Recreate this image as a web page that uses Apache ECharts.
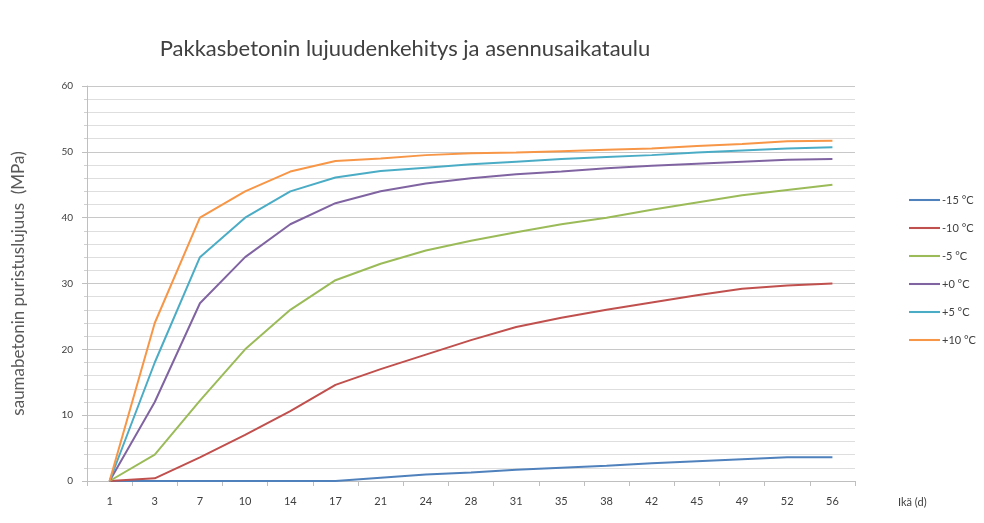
<!DOCTYPE html>
<html>
<head>
<meta charset="utf-8">
<script src="https://cdn.jsdelivr.net/npm/echarts@6/dist/echarts.min.js"></script>
<style>
  html, body { margin: 0; padding: 0; background: #fff; }
  #chart { width: 984px; height: 523px; }
</style>
</head>
<body>
<div id="chart"></div>
<script>
// Concrete age in days
const ages = ['1', '3', '7', '10', '14', '17', '21', '24', '28', '31', '35', '38', '42', '45', '49', '52', '56'];

// Compressive strength (MPa) per curing temperature
const minus15 = [0, 0, 0, 0, 0, 0, 0.5, 1, 1.3, 1.7, 2, 2.3, 2.7, 3, 3.3, 3.6, 3.6];
const minus10 = [0, 0.4, 3.6, 7, 10.6, 14.6, 17, 19.2, 21.4, 23.4, 24.8, 26, 27.1, 28.2, 29.2, 29.7, 30];
const minus5  = [0, 4, 12.2, 20, 26, 30.5, 33, 35, 36.5, 37.8, 39, 40, 41.2, 42.3, 43.4, 44.2, 45];
const plus0   = [0, 12, 27, 34, 39, 42.2, 44, 45.2, 46, 46.6, 47, 47.5, 47.9, 48.2, 48.5, 48.8, 48.9];
const plus5   = [0, 18, 34, 40, 44, 46.1, 47.1, 47.6, 48.1, 48.5, 48.9, 49.2, 49.5, 49.9, 50.2, 50.5, 50.7];
const plus10  = [0, 24, 40, 44, 47, 48.6, 49, 49.5, 49.8, 49.9, 50.1, 50.3, 50.5, 50.9, 51.2, 51.6, 51.7];

const seriesNames = ['-15 °C', '-10 °C', '-5 °C', '+0 °C', '+5 °C', '+10 °C'];
const seriesData = [minus15, minus10, minus5, plus0, plus5, plus10];
const colors = ['#4F81BD', '#C0504D', '#9BBB59', '#8064A2', '#4BACC6', '#F79646'];

const font = 'Lato, "Open Sans", sans-serif';

const chart = echarts.init(document.getElementById('chart'));
chart.setOption({
  animation: false,
  color: colors,
  title: {
    text: 'Pakkasbetonin lujuudenkehitys ja asennusaikataulu',
    left: 400,
    top: 33,
    textAlign: 'center',
    textStyle: { fontFamily: font, fontSize: 22, fontWeight: 'normal', color: '#404040' }
  },
  grid: { left: 87, right: 129, top: 86, bottom: 42, containLabel: false },
  legend: {
    orient: 'vertical',
    left: 904,
    top: 188,
    itemGap: 14,
    itemWidth: 31,
    itemHeight: 14,
    icon: 'path://M0,6 L30,6 L30,8 L0,8 Z',
    data: seriesNames,
    textStyle: { fontFamily: font, fontSize: 11, color: '#404040', padding: [0, 0, 0, -3], lineHeight: 14 }
  },
  xAxis: {
    type: 'category',
    data: ages,
    boundaryGap: true,
    name: 'Ikä (d)',
    nameLocation: 'end',
    nameGap: 43,
    nameTextStyle: { fontFamily: font, fontSize: 11, color: '#404040', verticalAlign: 'top', padding: [16, 0, 0, 0] },
    axisLine: { lineStyle: { color: '#bfbfbf', width: 1 } },
    axisTick: { show: true, alignWithLabel: false, length: 5, lineStyle: { color: '#bfbfbf' } },
    axisLabel: { fontFamily: font, fontSize: 11, color: '#404040', margin: 15 },
    splitLine: { show: false }
  },
  yAxis: {
    type: 'value',
    min: 0,
    max: 60,
    interval: 10,
    name: 'saumabetonin puristuslujuus  (MPa)',
    nameLocation: 'middle',
    nameGap: 60,
    nameTextStyle: { fontFamily: font, fontSize: 17, color: '#595959' },
    axisLine: { show: true, lineStyle: { color: '#bfbfbf' } },
    axisTick: { show: true, length: 5, lineStyle: { color: '#bfbfbf' } },
    axisLabel: { fontFamily: font, fontSize: 10, color: '#404040', margin: 14 },
    splitLine: { show: true, lineStyle: { color: '#c8c8c8', width: 1 } },
    minorTick: { show: true, splitNumber: 5, length: 3, lineStyle: { color: '#d0d0d0' } },
    minorSplitLine: { show: true, lineStyle: { color: '#dedede', width: 1 } }
  },
  series: seriesNames.map((name, i) => ({
    name: name,
    type: 'line',
    data: seriesData[i],
    symbol: 'none',
    lineStyle: { width: 2, color: colors[i] },
    itemStyle: { color: colors[i] }
  }))
});
</script>
</body>
</html>
